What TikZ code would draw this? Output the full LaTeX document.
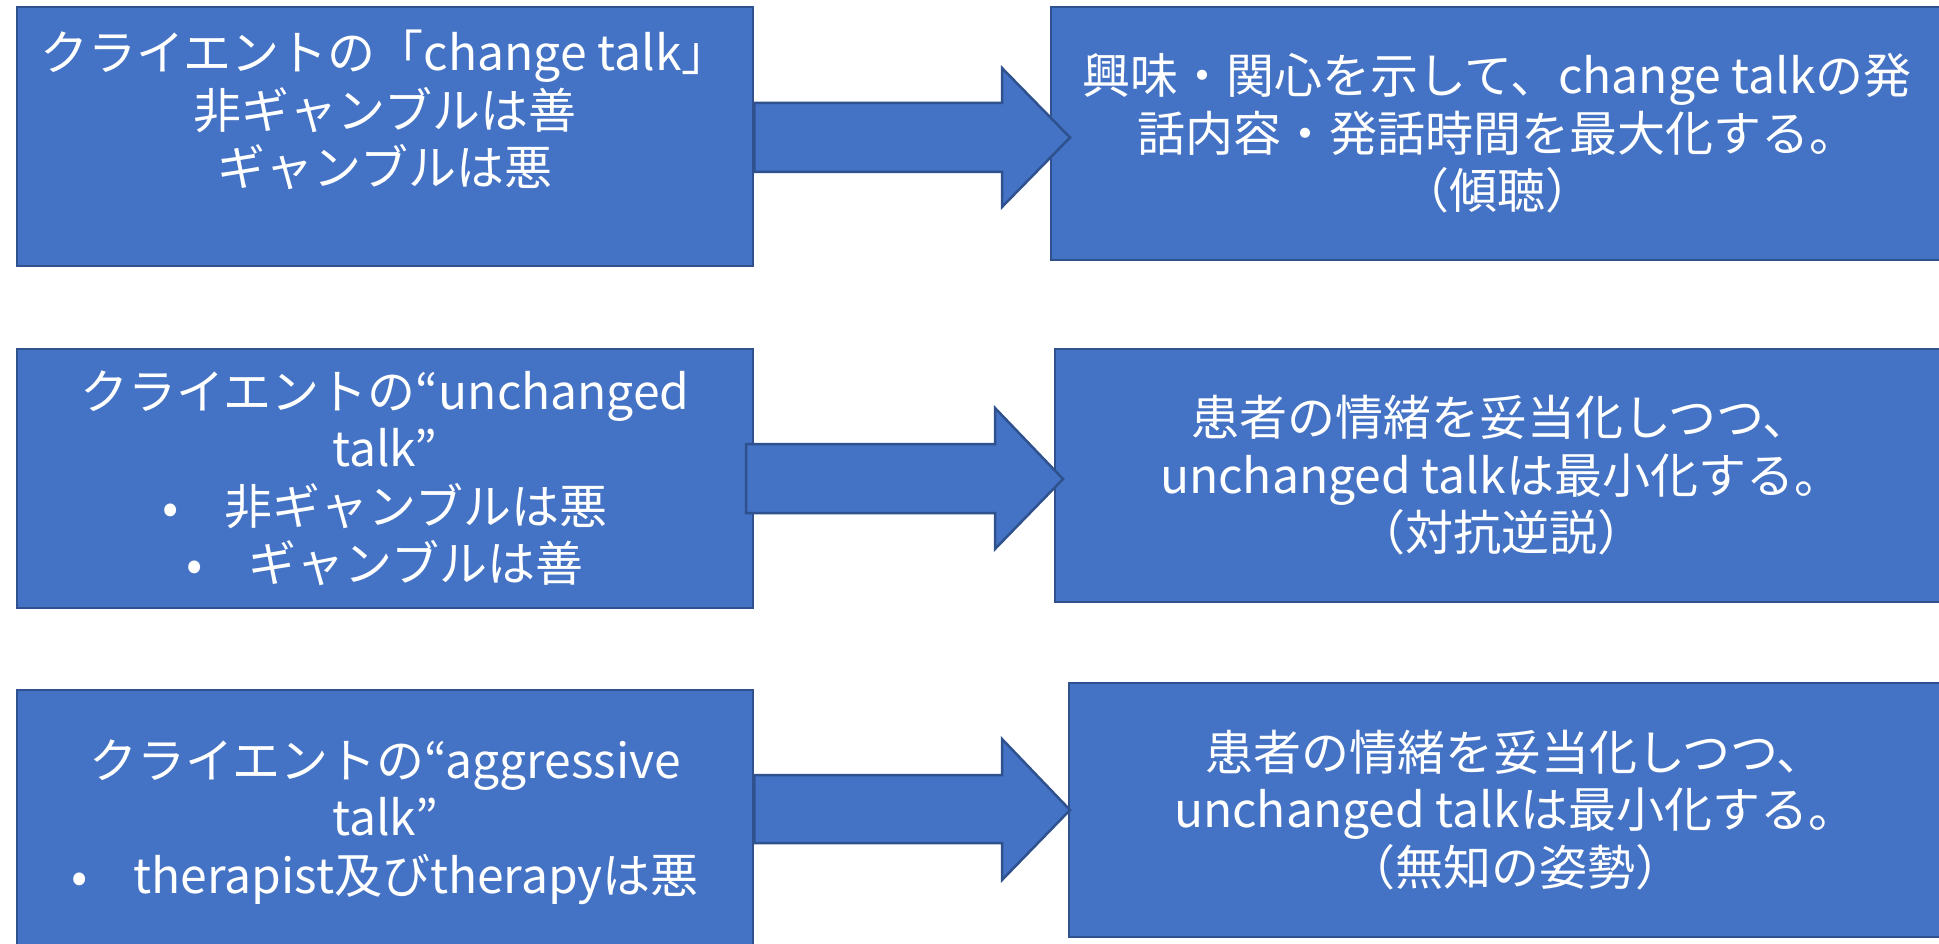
\documentclass[tikz,border=0pt]{standalone}
\usepackage{fontspec}
\setmainfont{Noto Sans CJK JP}
\definecolor{boxfill}{HTML}{4472C4}
\definecolor{boxline}{HTML}{2F528F}
\newcommand{\bulletgap}{\hspace{46pt}}
\begin{document}
\begin{tikzpicture}[x=1pt,y=-1pt,
  box/.style={draw=boxline, fill=boxfill, line width=2.5pt, inner sep=0pt,
    text=white, align=center, font=\fontsize{48}{57.5}\selectfont},
  leftbox/.style={box, minimum width=736pt},
  rightbox/.style={box, minimum width=892pt},
  blockarrow/.style={draw=boxline, fill=boxfill, line width=2.5pt, line join=miter}]
\useasboundingbox (0,0) rectangle (1939,944);

% left column: client talk
\node[leftbox, minimum height=259pt] (L1) at (385,136.5)
  {クライエントの「change talk」\\非ギャンブルは善\\ギャンブルは悪\\ \mbox{}};
\node[leftbox, minimum height=259pt] (L2) at (385,478.5)
  {クライエントの“unchanged\\talk”\\•\bulletgap 非ギャンブルは悪\\•\bulletgap ギャンブルは善};
\node[leftbox, minimum height=264pt] (L3) at (385,822)
  {クライエントの“aggressive\\talk”\\•\bulletgap therapist及びtherapyは悪};

% right column: therapist responses
\node[rightbox, minimum height=253pt] (R1) at (1497,133.5)
  {興味・関心を示して、change talkの発\\話内容・発話時間を最大化する。\\（傾聴）};
\node[rightbox, minimum height=253pt] (R2) at (1501,475.5)
  {患者の情緒を妥当化しつつ、\\unchanged talkは最小化する。\\（対抗逆説）};
\node[rightbox, minimum height=254pt] (R3) at (1515,810)
  {患者の情緒を妥当化しつつ、\\unchanged talkは最小化する。\\（無知の姿勢）};

% block arrows from each client box to its response
\draw[blockarrow] (L1.east |- 0,103) -- (1002,103) -- (1002,68) -- (1070,137.5)
  -- (1002,207) -- (1002,172) -- (L1.east |- 0,172) -- cycle;
\draw[blockarrow] (746,444) -- (995,444) -- (995,408) -- (1063,479)
  -- (995,549) -- (995,513) -- (746,513) -- cycle;
\draw[blockarrow] (L3.east |- 0,775) -- (1002,775) -- (1002,739) -- (1070,810)
  -- (1002,880) -- (1002,843) -- (L3.east |- 0,843) -- cycle;
\end{tikzpicture}
\end{document}
